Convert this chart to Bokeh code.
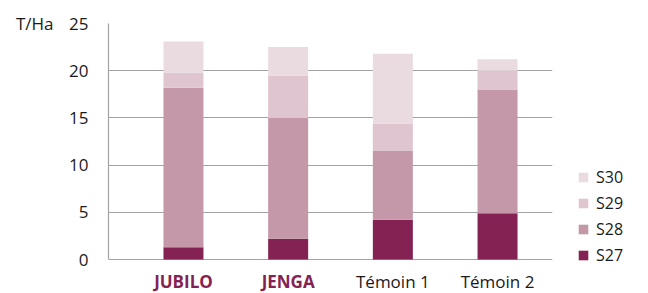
from bokeh.plotting import figure
from bokeh.models import (Range1d, ColumnDataSource, LabelSet, Legend,
                          LegendItem, FixedTicker, LinearAxis)
from bokeh.core.properties import value
from bokeh.embed import file_html
from bokeh.resources import INLINE

# ---- data ----
categories = ["JUBILO", "JENGA", "Témoin 1", "Témoin 2"]
highlighted = ["JUBILO", "JENGA"]
series = ["S27", "S28", "S29", "S30"]
s27 = [1.3, 2.2, 4.2, 4.9]
s28 = [16.9, 12.8, 7.3, 13.1]
s29 = [1.6, 4.5, 2.9, 2.0]
s30 = [3.3, 3.0, 7.4, 1.2]
y_ticks = [0, 5, 10, 15, 20, 25]
unit_label = "T/Ha"

# ---- styles ----
FONT = "Open Sans"
series_colors = ["#832253", "#c498a9", "#dfc5cf", "#eadbe0"]
accent = "#832253"
text_color = "#1a1a1a"
grid_color = "#a3a3a3"

x_idx = list(range(len(categories)))
label_colors = [accent if c in highlighted else text_color for c in categories]
label_styles = ["bold" if c in highlighted else "normal" for c in categories]

source = ColumnDataSource(dict(x=x_idx, cat=categories, S27=s27, S28=s28,
                               S29=s29, S30=s30, color=label_colors,
                               style=label_styles))

y_top = y_ticks[-1]
x_start, x_end = -0.716, 3.525
p = figure(frame_width=444, frame_height=270,
           x_range=Range1d(x_start, x_end), y_range=Range1d(-3.6, y_top),
           output_backend="svg", toolbar_location=None,
           min_border_left=108, min_border_top=23, min_border_bottom=0,
           min_border_right=0)

renderers = p.vbar_stack(series, x="x", width=0.382, source=source,
                         color=series_colors, line_color=None)

p.xaxis.visible = False
p.xgrid.visible = False
p.outline_line_color = None

yax = p.yaxis[0]
yax.ticker = FixedTicker(ticks=y_ticks)
yax.bounds = (0, y_top)
yax.major_tick_line_color = None
yax.minor_tick_line_color = None
yax.axis_line_color = grid_color
yax.axis_line_width = 1.2
yax.major_label_standoff = 14
yax.major_label_text_font = FONT
yax.major_label_text_font_size = "17px"
yax.major_label_text_color = text_color

# unit label as an outer left axis with a single tick at the top value
uax = LinearAxis(ticker=FixedTicker(ticks=[y_top]),
                 major_label_overrides={y_top: unit_label},
                 axis_line_color=None, major_tick_line_color=None,
                 minor_tick_line_color=None, major_label_standoff=7,
                 major_label_text_font=FONT, major_label_text_font_size="17px",
                 major_label_text_color=text_color)
p.add_layout(uax, "left")

p.ygrid.ticker = FixedTicker(ticks=y_ticks)
p.ygrid.grid_line_color = grid_color
p.ygrid.grid_line_width = 1.2

labels = LabelSet(x="x", y=-2.3, text="cat", source=source,
                  text_color="color", text_font_style="style",
                  text_font=value(FONT), text_font_size=value("17px"),
                  text_line_height=1.0,
                  text_align="center", text_baseline="middle")
p.add_layout(labels)

items = [LegendItem(label=s, renderers=[r]) for s, r in zip(series, renderers)]
legend = Legend(items=list(reversed(items)), location=(25, 27),
                glyph_width=12, glyph_height=12, label_standoff=7,
                spacing=4, padding=0, margin=0, label_height=14,
                label_text_font=FONT, label_text_font_size="16px",
                label_text_color=text_color,
                border_line_color=None, background_fill_color=None)
p.add_layout(legend, "right")

open("out.html", "w").write(file_html(p, INLINE))
